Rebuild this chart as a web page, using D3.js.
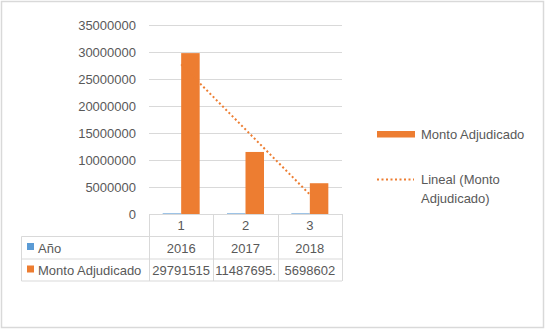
<!DOCTYPE html>
<html><head><meta charset="utf-8">
<script src="https://cdn.jsdelivr.net/npm/d3@7"></script>
<style>body{margin:0;background:#fff}svg{display:block}text{font-family:"Liberation Sans",Arial,sans-serif;fill:#595959}</style>
</head><body>
<script>
const categories = ["1", "2", "3"];
const anio = [2016, 2017, 2018];
const monto = [29791515, 11487695, 5698602];
const montoLabels = ["29791515", "11487695.", "5698602"];
const yTicks = [0, 5000000, 10000000, 15000000, 20000000, 25000000, 30000000, 35000000];

const W = 545, H = 329;
const svg = d3.select("body").append("svg").attr("width", W).attr("height", H);
svg.append("rect").attr("x", 1.5).attr("y", 1.5).attr("width", W - 3).attr("height", H - 3)
  .attr("fill", "#fff").attr("stroke", "#d9d9d9").attr("stroke-width", 1.5);

const L = 149, R = 342, T = 25, B = 214;
const x = d3.scaleBand().domain(categories).range([L, R]);
const y = d3.scaleLinear().domain([0, 35000000]).range([B, T]);
const bw = 18.5;

// gridlines
svg.append("g").selectAll("line").data(yTicks).join("line")
  .attr("x1", L).attr("x2", R).attr("y1", d => Math.round(y(d)) + 0.5).attr("y2", d => Math.round(y(d)) + 0.5)
  .attr("stroke", "#d9d9d9").attr("stroke-width", 1);
// tick labels
svg.append("g").selectAll("text").data(yTicks).join("text")
  .attr("x", 136).attr("y", d => y(d) + 4.5).attr("text-anchor", "end")
  .attr("font-size", 13).text(d => d);

// bars
const cx = c => x(c) + x.bandwidth() / 2;
svg.append("g").selectAll("rect").data(categories).join("rect")
  .attr("x", (c) => cx(c) - bw).attr("width", bw)
  .attr("y", (c, i) => y(anio[i]) - 1).attr("height", (c, i) => Math.max(1, B - y(anio[i])))
  .attr("fill", "#9dc3e6");
svg.append("g").selectAll("rect").data(categories).join("rect")
  .attr("x", c => cx(c)).attr("width", bw)
  .attr("y", (c, i) => y(monto[i])).attr("height", (c, i) => B - y(monto[i]))
  .attr("fill", "#ED7D31");

// linear trendline (least squares)
const xs = [1, 2, 3];
const mx = d3.mean(xs), my = d3.mean(monto);
const slope = d3.sum(xs.map((v, i) => (v - mx) * (monto[i] - my))) / d3.sum(xs.map(v => (v - mx) ** 2));
const icpt = my - slope * mx;
svg.append("line")
  .attr("x1", cx(categories[0])).attr("y1", y(icpt + slope * 1))
  .attr("x2", cx(categories[2])).attr("y2", y(icpt + slope * 3))
  .attr("stroke", "#ED7D31").attr("stroke-width", 2).attr("stroke-dasharray", "2,2.5");

// data table
const tl = 21.5, r1 = 236.5, r2 = 259, r3 = 281;
const g = svg.append("g").attr("stroke", "#d9d9d9").attr("stroke-width", 1);
[B + 0.5, r1, r2, r3].forEach((yy, i) => g.append("line").attr("x1", i === 0 ? L : tl).attr("x2", R).attr("y1", yy).attr("y2", yy));
g.append("line").attr("x1", tl).attr("x2", tl).attr("y1", r1).attr("y2", r3);
[L, ...categories.map(c => x(c) + x.bandwidth())].forEach(xx => g.append("line").attr("x1", Math.round(xx) + 0.5).attr("x2", Math.round(xx) + 0.5).attr("y1", B).attr("y2", r3));

svg.append("g").selectAll("text").data(categories).join("text")
  .attr("x", cx).attr("y", 230).attr("text-anchor", "middle").attr("font-size", 13).text(d => d);
svg.append("g").selectAll("text").data(anio).join("text")
  .attr("x", (d, i) => cx(categories[i])).attr("y", 252.5).attr("text-anchor", "middle").attr("font-size", 13).text(d => d);
svg.append("g").selectAll("text").data(montoLabels).join("text")
  .attr("x", (d, i) => cx(categories[i])).attr("y", 275).attr("text-anchor", "middle").attr("font-size", 13).text(d => d);

svg.append("rect").attr("x", 27).attr("y", 243).attr("width", 7).attr("height", 7).attr("fill", "#5B9BD5");
svg.append("text").attr("x", 38).attr("y", 252.5).attr("font-size", 13).text("Año");
svg.append("rect").attr("x", 27).attr("y", 265.5).attr("width", 7).attr("height", 7).attr("fill", "#ED7D31");
svg.append("text").attr("x", 38).attr("y", 275).attr("font-size", 13).text("Monto Adjudicado");

// legend
svg.append("rect").attr("x", 377).attr("y", 131).attr("width", 38).attr("height", 6.5).attr("fill", "#ED7D31");
svg.append("text").attr("x", 421).attr("y", 139).attr("font-size", 13).text("Monto Adjudicado");
svg.append("line").attr("x1", 377).attr("x2", 414).attr("y1", 179.5).attr("y2", 179.5)
  .attr("stroke", "#ED7D31").attr("stroke-width", 2).attr("stroke-dasharray", "2,2.5");
svg.append("text").attr("x", 421).attr("y", 184).attr("font-size", 13).text("Lineal (Monto");
svg.append("text").attr("x", 421).attr("y", 203).attr("font-size", 13).text("Adjudicado)");
</script>
</body></html>
